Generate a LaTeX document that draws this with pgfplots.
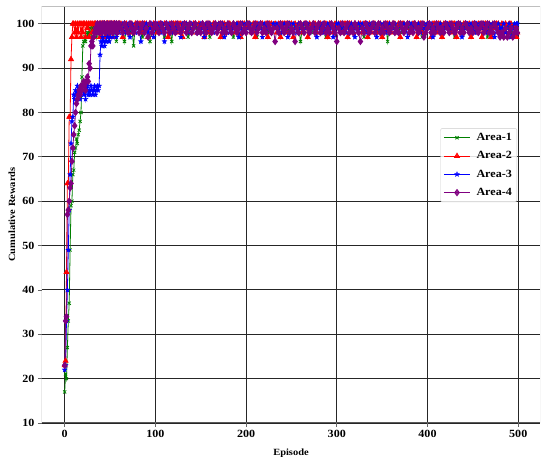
\documentclass[border=0pt]{standalone}
\usepackage{pgfplots}
\pgfplotsset{compat=1.18}
\usepackage{pgfplotstable}
\usepackage{fontspec}
\setmainfont{Liberation Serif}[FakeStretch=1.1]
\definecolor{cA}{RGB}{0,128,0}
\definecolor{cB}{RGB}{255,0,0}
\definecolor{cC}{RGB}{0,0,255}
\definecolor{cD}{RGB}{128,0,128}
\pgfdeclareplotmark{fstar}{%
  \pgfpathmoveto{\pgfpointpolar{90}{\pgfplotmarksize}}%
  \pgfpathlineto{\pgfpointpolar{126}{0.42\pgfplotmarksize}}%
  \pgfpathlineto{\pgfpointpolar{162}{\pgfplotmarksize}}%
  \pgfpathlineto{\pgfpointpolar{198}{0.42\pgfplotmarksize}}%
  \pgfpathlineto{\pgfpointpolar{234}{\pgfplotmarksize}}%
  \pgfpathlineto{\pgfpointpolar{270}{0.42\pgfplotmarksize}}%
  \pgfpathlineto{\pgfpointpolar{306}{\pgfplotmarksize}}%
  \pgfpathlineto{\pgfpointpolar{342}{0.42\pgfplotmarksize}}%
  \pgfpathlineto{\pgfpointpolar{18}{\pgfplotmarksize}}%
  \pgfpathlineto{\pgfpointpolar{54}{0.42\pgfplotmarksize}}%
  \pgfpathclose\pgfusepathqfillstroke}

\pgfplotstableread{
ep a1 a2 a3 a4
0 17 23 22 23
1 21 24 23 33
2 20 44 33 34
3 27 64 40 57
4 33 64 49 58
5 37 79 58 60
6 49 79 66 63
7 59 92 73 64
8 60 97 78 69
9 66 100 79 72
10 67 100 84 75
11 71 98 83 77
12 72 100 85 80
13 74 97 84 82
14 73 100 86 83
15 75 98 84 84
16 76 100 85 85
17 78 100 83 84
18 80 97 84 86
19 88 100 86 85
20 95 98 85 86
21 96 100 84 87
22 97 100 85 86
23 96 97 83 85
24 97 100 85 87
25 98 99 86 88
26 97 100 84 87
27 98 97 85 91
28 99 100 84 90
29 97 100 86 95
30 98 98 85 96
31 99 100 84 95
32 100 97 85 97
33 98 100 86 98
34 99 100 84 99
35 97 98 85 98
36 99 100 86 100
37 100 99 85 99
38 98 100 86 98
39 99 97 93 100
40 97 100 96 99
41 99 100 95 98
42 98 98 97 100
43 100 100 96 99
44 99 100 95 100
45 97 97 98 98
46 99 100 96 99
47 100 99 97 100
48 98 100 98 99
49 96 100 96 98
50 99 98 97 100
51 100 100 99 99
52 98 100 98 100
53 99 97 97 98
54 97 100 99 99
55 100 100 98 100
56 99 99 100 99
57 96 100 97 100
58 98 98 99 98
59 100 100 100 99
60 99 100 98 100
62 99 100 99 99
64 100 97 100 98
66 96 100 98 100
68 99 100 99 99
70 100 98 100 98
72 98 100 97 100
74 99 100 100 99
76 95 98 99 98
78 100 100 98 99
80 99 99 100 100
82 100 100 99 98
84 99 100 96 99
86 97 98 100 100
88 100 100 99 98
90 99 100 100 99
92 100 97 98 97
94 96 100 99 100
96 99 99 100 98
98 100 100 97 99
100 99 100 99 100
102 98 98 100 99
104 100 100 99 98
106 99 100 98 100
108 100 99 100 99
110 97 100 96 98
112 99 100 99 100
114 100 97 100 99
116 99 100 99 98
118 96 98 100 100
120 100 100 98 99
122 99 100 99 98
124 100 98 100 100
126 99 100 99 99
128 98 100 97 98
130 100 97 100 99
132 99 100 99 100
134 100 100 100 98
136 97 99 98 99
138 99 100 99 100
140 100 98 100 98
142 99 100 99 99
144 100 100 100 100
146 99 98 98 98
148 100 100 99 99
150 98 99 100 98
152 99 100 99 100
154 100 97 97 99
156 99 100 100 98
158 100 98 99 100
160 97 100 100 99
162 100 98 99 98
164 99 100 98 99
166 100 100 100 100
168 99 99 99 98
170 100 100 100 99
172 99 97 99 100
174 98 100 100 98
176 100 100 97 99
178 99 98 99 98
180 100 100 100 100
182 99 100 98 99
184 100 99 99 98
186 97 100 100 100
188 99 98 99 99
190 100 100 100 98
192 99 100 97 99
194 100 97 99 100
196 99 100 100 98
198 98 100 99 99
200 100 99 100 98
202 99 100 99 100
204 100 100 100 99
206 99 98 98 98
208 100 100 99 99
210 99 97 100 100
212 97 100 99 98
214 100 99 100 99
216 99 100 99 100
218 100 100 97 98
220 99 98 100 99
222 100 100 99 98
224 98 97 100 100
226 99 100 99 99
228 100 100 98 98
230 99 99 100 99
232 100 100 99 96
234 99 98 100 99
236 100 100 99 98
238 97 97 100 100
240 99 100 98 99
242 100 100 100 98
244 99 100 99 99
246 100 98 97 100
248 99 100 100 98
250 98 100 99 99
252 100 97 100 98
254 99 100 99 96
256 100 99 98 99
258 99 100 100 98
260 96 100 99 100
262 99 98 99 99
264 100 100 100 98
266 99 100 99 100
268 100 97 100 99
270 99 100 98 98
272 100 99 99 99
274 98 100 100 100
276 99 100 99 98
278 100 98 97 99
280 99 100 100 100
282 100 100 99 98
284 99 98 100 99
286 100 100 98 100
288 97 100 99 98
290 99 97 100 99
292 100 100 99 98
294 99 100 100 100
296 100 98 97 99
298 99 100 99 98
300 100 99 100 96
302 99 100 100 99
304 100 100 99 98
306 99 98 100 100
308 98 100 99 98
310 100 100 98 99
312 99 97 100 100
314 100 100 99 98
316 99 100 100 99
318 100 98 99 98
320 99 100 97 100
322 100 99 99 99
324 99 100 100 98
326 100 100 99 96
328 99 98 100 99
330 97 100 99 98
332 100 100 98 100
334 99 97 100 99
336 100 100 99 98
338 99 98 100 99
340 100 100 99 100
342 99 100 100 98
344 100 98 97 99
346 98 100 99 100
348 99 100 100 98
350 100 97 99 99
352 99 100 100 98
354 100 99 98 100
356 96 100 99 99
358 100 100 100 98
360 99 98 99 99
362 100 100 99 100
364 99 100 100 98
366 100 98 99 99
368 99 100 98 98
370 100 97 100 100
372 98 100 99 99
374 99 100 100 98
376 100 99 99 99
378 99 100 97 100
380 100 100 100 98
382 99 98 100 99
384 100 100 99 98
386 99 100 100 100
388 100 97 99 99
390 99 100 100 98
392 100 100 98 99
394 97 98 99 100
396 99 100 100 97
398 100 99 99 98
400 99 100 100 99
402 100 100 99 100
404 99 97 100 98
406 100 100 97 99
408 99 100 99 98
410 100 98 100 100
412 99 100 99 99
414 100 100 100 98
416 98 97 98 99
418 99 100 99 98
420 100 100 100 100
422 99 99 100 99
424 100 100 99 98
426 99 98 100 100
428 100 100 99 99
430 97 100 98 98
432 99 97 100 99
434 100 100 99 100
436 99 100 100 98
438 100 98 97 99
440 99 100 99 98
442 100 100 99 100
444 99 99 100 99
446 100 100 99 98
448 99 97 100 99
450 100 100 99 98
452 98 100 98 100
454 99 98 100 99
456 100 100 99 98
458 99 100 100 99
460 100 97 99 100
462 99 100 100 98
464 100 100 99 99
466 97 98 98 100
468 99 100 100 98
470 100 97 99 99
472 99 100 100 98
474 100 99 97 100
476 99 100 99 99
478 98 100 100 98
480 100 98 99 97
482 99 100 99 98
484 100 98 100 97
486 99 100 98 99
488 100 97 99 97
490 99 100 100 98
492 98 100 97 99
494 100 97 99 97
496 99 99 100 98
498 99 97 100 99
499 100 98 100 98
}\datatab

\begin{document}
\begin{tikzpicture}
\useasboundingbox (-42pt,-34pt) rectangle (508pt,423pt);
\begin{axis}[
  at={(0,0)}, anchor=south west,
  width=498pt, height=417pt, scale only axis,
  xmin=-25, xmax=524, ymin=10, ymax=104,
  xtick={0,100,...,500}, ytick={10,20,...,100},
  grid=major,
  major grid style={black!85, line width=0.9pt},
  axis line style={draw=none},
  tick pos=left, tick align=outside,
  major tick length=4pt,
  tick style={black!60, line width=0.8pt},
  /pgf/number format/assume math mode=true,
  ticklabel style={font=\bfseries\fontsize{11}{12}\selectfont},
  xlabel={Episode}, ylabel={Cumulative Rewards},
  xlabel style={font=\bfseries\fontsize{9.5}{11}\selectfont, at={(axis description cs:0.5,0)}, anchor=base, yshift=-32.5pt},
  ylabel style={font=\bfseries\fontsize{9.5}{11}\selectfont, at={(axis description cs:-0.0743,0.5)}, anchor=north},
  legend style={at={(0.954,0.707)}, anchor=north east, draw=black!20, rounded corners=2pt,
    fill=white, fill opacity=0.85, text opacity=1,
    font=\bfseries\fontsize{11}{13}\selectfont, row sep=5.5pt, inner sep=3pt,
    /tikz/every odd column/.append style={column sep=4pt}},
  legend cell align=left,
  legend image code/.code={\draw[mark repeat=2,mark phase=2] plot coordinates {(0cm,0cm) (0.46cm,0cm) (0.92cm,0cm)};},
]
\addplot[cA, line width=0.8pt, mark=x, mark size=2.2pt, mark options={line width=0.8pt}] table[x=ep, y=a1] {\datatab};
\addlegendentry{Area-1}
\addplot[cB, line width=0.8pt, mark=triangle*, mark size=2.8pt] table[x=ep, y=a2] {\datatab};
\addlegendentry{Area-2}
\addplot[cC, line width=0.8pt, mark=fstar, mark size=2.6pt, mark options={line width=0.3pt}] table[x=ep, y=a3] {\datatab};
\addlegendentry{Area-3}
\addplot[cD, line width=0.8pt, mark=diamond*, mark size=3.1pt] table[x=ep, y=a4] {\datatab};
\addlegendentry{Area-4}
\draw[black!25, line width=0.8pt] (rel axis cs:0,1) -- (rel axis cs:1,1) -- (rel axis cs:1,0);
\draw[black!65, line width=1pt] (rel axis cs:0,1) -- (rel axis cs:0,0) -- (rel axis cs:1,0);
\end{axis}
\end{tikzpicture}
\end{document}
